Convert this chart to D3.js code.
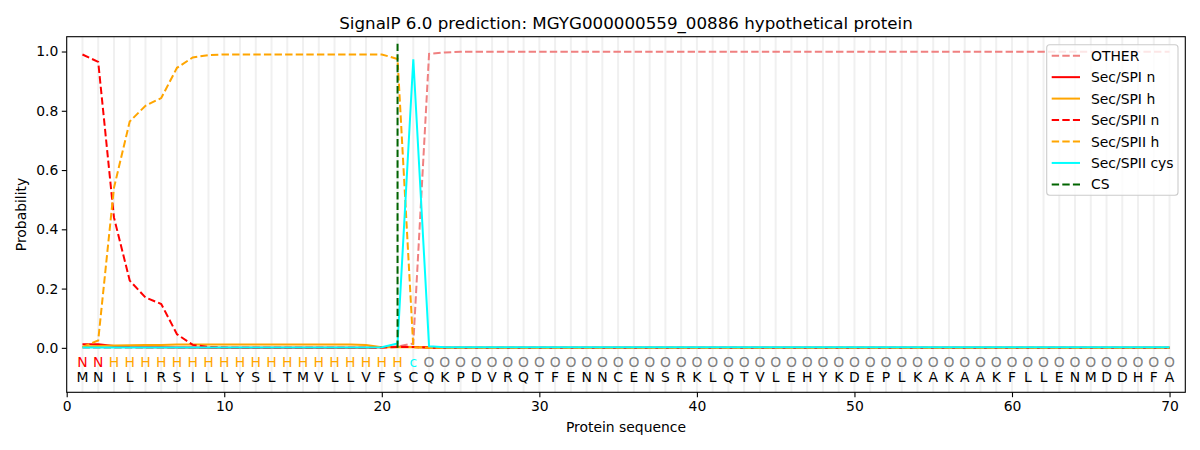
<!DOCTYPE html>
<html>
<head>
<meta charset="utf-8">
<style>
  body { margin: 0; background: #fff; }
  svg { font-family: "DejaVu Sans", sans-serif; }
</style>
</head>
<body>
<svg width="1200" height="450"></svg>
<script src="https://d3js.org/d3.v7.min.js"></script>
<script>
// sequence and per-residue labels
const sequence = "MNILIRSILLYSLTMVLLVFSCQKPDVRQTFENNCENSRKLQTVLEHYKDEPLKAKAAKFLLENMDDHFA".split("");
const regionLabels = "NNHHHHHHHHHHHHHHHHHHHcOOOOOOOOOOOOOOOOOOOOOOOOOOOOOOOOOOOOOOOOOOOOOOOO".split("");

// probabilities, positions 1..70
const other = [0,0,0,0,0,0,0,0,0,0, 0,0,0,0,0,0,0,0,0,0.001,
  0.004,0.015,0.992,0.997,0.999,0.999,0.999,0.999,0.999,0.999,
  0.999,0.999,0.999,0.999,0.999,0.999,0.999,0.999,0.999,0.999,
  0.999,0.999,0.999,0.999,0.999,0.999,0.999,0.999,0.999,0.999,
  0.999,0.999,0.999,0.999,0.999,0.999,0.999,0.999,0.999,0.999,
  0.999,0.999,0.999,0.999,0.999,0.999,0.999,0.999,0.999,0.999];
const spiN = [0.012,0.012,0.006,0.003,0.002,0.002,0.001,0.001,0,0,
  0,0,0,0,0,0,0,0,0,0.002, 0.004,0.003,0.001,0,0,0,0,0,0,0,
  0,0,0,0,0,0,0,0,0,0, 0,0,0,0,0,0,0,0,0,0, 0,0,0,0,0,0,0,0,0,0, 0,0,0,0,0,0,0,0,0,0];
const spiH = [0.004,0.006,0.008,0.009,0.010,0.010,0.011,0.011,0.011,0.011,
  0.011,0.011,0.011,0.011,0.011,0.011,0.011,0.011,0.010,0.002,
  0.002,0.003,0.001,0,0,0,0,0,0,0,
  0,0,0,0,0,0,0,0,0,0, 0,0,0,0,0,0,0,0,0,0, 0,0,0,0,0,0,0,0,0,0, 0,0,0,0,0,0,0,0,0,0];
const spiiN = [0.99,0.965,0.44,0.227,0.17,0.148,0.046,0.01,0.003,0.001,
  0,0,0,0,0,0,0,0,0,0.001, 0.003,0.003,0.001,0,0,0,0,0,0,0,
  0,0,0,0,0,0,0,0,0,0, 0,0,0,0,0,0,0,0,0,0, 0,0,0,0,0,0,0,0,0,0, 0,0,0,0,0,0,0,0,0,0];
const spiiH = [0.003,0.025,0.54,0.764,0.817,0.843,0.945,0.98,0.988,0.99,
  0.99,0.99,0.99,0.99,0.99,0.99,0.99,0.99,0.99,0.99,
  0.975,0.002,0,0,0,0,0,0,0,0,
  0,0,0,0,0,0,0,0,0,0, 0,0,0,0,0,0,0,0,0,0, 0,0,0,0,0,0,0,0,0,0, 0,0,0,0,0,0,0,0,0,0];
const spiiCys = [0.001,0.001,0.001,0.001,0.001,0.001,0.001,0.001,0.001,0.001,
  0.001,0.001,0.001,0.001,0.001,0.001,0.001,0.001,0.001,0.002,
  0.015,0.974,0.005,0.002,0.002,0.002,0.002,0.002,0.002,0.002,
  0.002,0.002,0.002,0.002,0.002,0.002,0.002,0.002,0.002,0.002,
  0.002,0.002,0.002,0.002,0.002,0.002,0.002,0.002,0.002,0.002,
  0.002,0.002,0.002,0.002,0.002,0.002,0.002,0.002,0.002,0.002,
  0.002,0.002,0.002,0.002,0.002,0.002,0.002,0.002,0.002,0.002];
const csPos = 21;
const xTicks = [0, 10, 20, 30, 40, 50, 60, 70];
const yTicks = [0, 0.2, 0.4, 0.6, 0.8, 1.0];

const series = [
  { name: "OTHER", values: other, color: "#f08080", dash: "7.4,3.2" },
  { name: "Sec/SPI n", values: spiN, color: "red", dash: null },
  { name: "Sec/SPI h", values: spiH, color: "orange", dash: null },
  { name: "Sec/SPII n", values: spiiN, color: "red", dash: "7.4,3.2" },
  { name: "Sec/SPII h", values: spiiH, color: "orange", dash: "7.4,3.2" },
  { name: "Sec/SPII cys", values: spiiCys, color: "cyan", dash: null }
];
const labelColor = { N: "red", H: "orange", c: "cyan", O: "gray" };

const svg = d3.select("svg");
const plotL = 66.7, plotR = 1185.3, plotT = 36.7, plotB = 392.3;
const lw = 2;

const x = d3.scaleLinear().domain([0, 71]).range([plotL, plotR]);
const y = d3.scaleLinear().domain([-0.15, 1.05]).range([plotB, plotT]);
const positions = d3.range(1, sequence.length + 1);

// light vertical grid per residue
svg.append("g").selectAll("line").data(positions).enter()
  .append("line")
  .attr("x1", d => x(d)).attr("x2", d => x(d))
  .attr("y1", plotT).attr("y2", plotB)
  .attr("stroke", "#f0f0f0").attr("stroke-width", 2);

// residue labels
svg.append("g").selectAll("text").data(regionLabels).enter()
  .append("text")
  .attr("x", (d, i) => x(i + 1)).attr("y", 366.5)
  .attr("text-anchor", "middle").attr("font-size", 13.9)
  .attr("fill", d => labelColor[d]).text(d => d);

svg.append("g").selectAll("text").data(sequence).enter()
  .append("text")
  .attr("x", (d, i) => x(i + 1)).attr("y", 381.5)
  .attr("text-anchor", "middle").attr("font-size", 13.9)
  .attr("fill", "black").text(d => d);

// series lines
const line = d3.line().x((d, i) => x(i + 1)).y(d => y(d));
svg.append("g").selectAll("path").data(series).enter()
  .append("path")
  .attr("d", d => line(d.values))
  .attr("fill", "none")
  .attr("stroke", d => d.color)
  .attr("stroke-width", lw)
  .attr("stroke-dasharray", d => d.dash);

// cleavage site
svg.append("line")
  .attr("x1", x(csPos)).attr("x2", x(csPos))
  .attr("y1", y(0)).attr("y2", y(1.035))
  .attr("stroke", "darkgreen").attr("stroke-width", lw)
  .attr("stroke-dasharray", "7.4,3.2");

// axes
const xAxis = svg.append("g").attr("transform", `translate(0,${plotB})`)
  .call(d3.axisBottom(x).tickValues(xTicks).tickFormat(d3.format("d")).tickSizeOuter(0).tickSize(4.9).tickPadding(3.5));
const yAxis = svg.append("g").attr("transform", `translate(${plotL},0)`)
  .call(d3.axisLeft(y).tickValues(yTicks).tickFormat(d3.format(".1f")).tickSizeOuter(0).tickSize(4.9).tickPadding(3.5));
[xAxis, yAxis].forEach(a => {
  a.selectAll("text").attr("font-size", 13.9).attr("font-family", "DejaVu Sans").attr("fill", "black");
  a.selectAll("line").attr("stroke", "black").attr("stroke-width", 1.1);
  a.select(".domain").remove();
});

svg.append("rect")
  .attr("x", plotL).attr("y", plotT)
  .attr("width", plotR - plotL).attr("height", plotB - plotT)
  .attr("fill", "none").attr("stroke", "black").attr("stroke-width", 1.1);

// titles
svg.append("text").attr("x", (plotL + plotR) / 2).attr("y", 29)
  .attr("text-anchor", "middle").attr("font-size", 16.7)
  .text("SignalP 6.0 prediction: MGYG000000559_00886 hypothetical protein");
svg.append("text").attr("x", (plotL + plotR) / 2).attr("y", 432)
  .attr("text-anchor", "middle").attr("font-size", 13.9)
  .text("Protein sequence");
svg.append("text")
  .attr("transform", `translate(26,${(plotT + plotB) / 2}) rotate(-90)`)
  .attr("text-anchor", "middle").attr("font-size", 13.9)
  .text("Probability");

// legend
const legendItems = series.concat([{ name: "CS", color: "darkgreen", dash: "7.4,3.2" }]);
const lg = svg.append("g");
lg.append("rect")
  .attr("x", 1046.7).attr("y", 44.7).attr("width", 131.3).attr("height", 150.6)
  .attr("rx", 3).attr("fill", "white").attr("fill-opacity", 0.8)
  .attr("stroke", "#cccccc").attr("stroke-width", 1.1);
const rows = lg.selectAll("g.row").data(legendItems).enter()
  .append("g").attr("class", "row")
  .attr("transform", (d, i) => `translate(0,${55.7 + i * 21.45})`);
rows.append("line")
  .attr("x1", 1051.7).attr("x2", 1080).attr("y1", 0).attr("y2", 0)
  .attr("stroke", d => d.color).attr("stroke-width", lw)
  .attr("stroke-dasharray", d => d.dash);
rows.append("text")
  .attr("x", 1091).attr("y", 5).attr("font-size", 13.9)
  .text(d => d.name);
</script>
</body>
</html>
